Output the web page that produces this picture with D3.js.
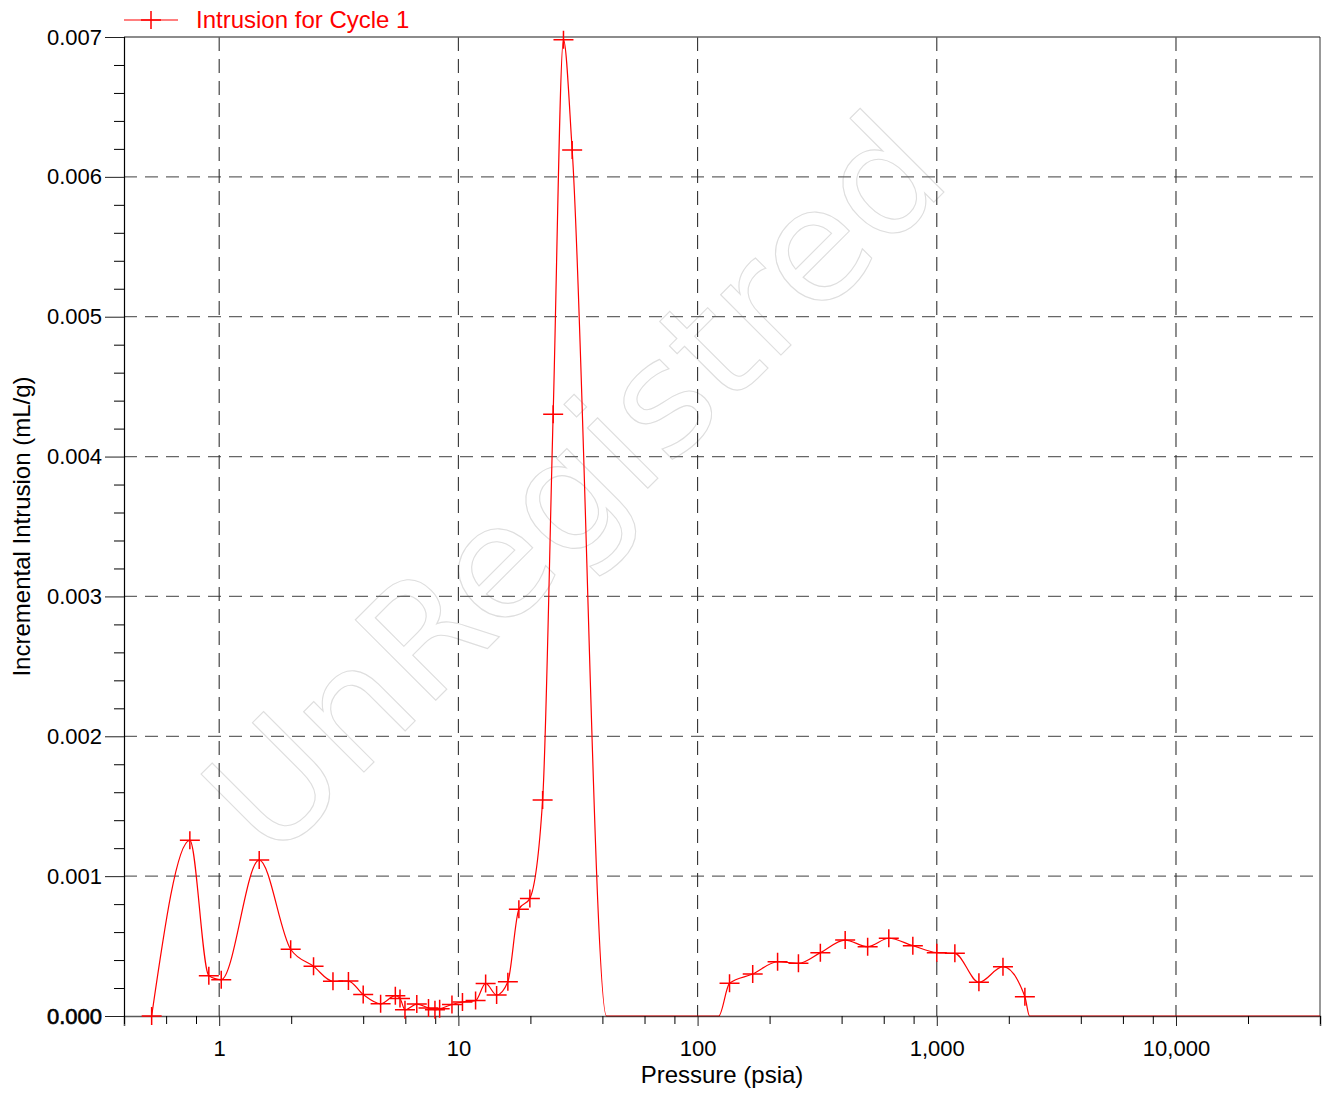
<!DOCTYPE html>
<html><head><meta charset="utf-8">
<script src="https://cdn.jsdelivr.net/npm/d3@7"></script>
<style>body{margin:0;background:#fff} svg{display:block;font-family:"Liberation Sans",Arial,sans-serif}</style>
</head><body><svg id="c" width="1330" height="1093"></svg>
<script>
// ---- data ----
const pressure = [0.522, 0.754, 0.905, 1.02, 1.47, 1.99, 2.48, 2.99, 3.47, 4.0, 4.73, 5.45, 5.7, 5.98, 6.7, 7.5, 7.98, 8.35, 9.4, 10.4, 11.8, 13.0, 14.45, 16.1, 17.9, 19.9, 22.5, 24.9, 27.5, 29.9, 41.6, 122.5, 136, 170, 216, 264, 326, 414, 514, 630, 794, 1000, 1190, 1500, 1891, 2335, 2443, 40000];
const intrusion = [0, 0.001256, 0.000288, 0.000260, 0.001115, 0.000477, 0.000355, 0.000248, 0.000250, 0.000153, 0.000087, 0.000145, 0.000126, 0.000045, 0.000085, 0.000057, 0.000045, 0.000052, 0.000082, 0.000100, 0.000110, 0.000233, 0.000150, 0.000245, 0.000763, 0.000841, 0.001544, 0.004302, 0.006980, 0.006192, 0, 0, 0.000234, 0.000300, 0.000388, 0.000377, 0.000453, 0.000543, 0.000496, 0.000556, 0.000503, 0.000453, 0.000448, 0.000241, 0.000353, 0.000138, 0, 0];
const seriesName = "Intrusion for Cycle 1";
const xMajorTicks = [1, 10, 100, 1000, 10000];
const xTickLabels = ["1", "10", "100", "1,000", "10,000"];
const xMinorTicks = [0.4, 0.6, 0.8, 2, 4, 6, 8, 20, 40, 60, 80, 200, 400, 600, 800, 2000, 4000, 6000, 8000, 20000, 40000];
const yMajorTicks = [0, 0.001, 0.002, 0.003, 0.004, 0.005, 0.006, 0.007];
const yTickLabels = ["0.000", "0.001", "0.002", "0.003", "0.004", "0.005", "0.006", "0.007"];
const yMinorTicks = [0.0002,0.0004,0.0006,0.0008,0.0012,0.0014,0.0016,0.0018,0.0022,0.0024,0.0026,0.0028,0.0032,0.0034,0.0036,0.0038,0.0042,0.0044,0.0046,0.0048,0.0052,0.0054,0.0056,0.0058,0.0062,0.0064,0.0066,0.0068];
const xTitle = "Pressure (psia)";
const yTitle = "Incremental Intrusion (mL/g)";
const watermark = "UnRegistred";

// ---- layout ----
const L = 124, R = 1320, T = 37, B = 1016;
const svg = d3.select("#c");
const x = d3.scaleLog().domain([0.4, 40000]).range([L, R]);
const y = d3.scaleLinear().domain([0, 0.007]).range([B, T]);
const data = pressure.map((p, i) => ({p, v: intrusion[i], i}));
const red = "#ff0000";

// watermark
svg.append("text")
  .attr("transform", "translate(613,523) rotate(-45)")
  .attr("text-anchor", "middle")
  .attr("font-family", "DejaVu Sans, sans-serif")
  .attr("font-size", 156)
  .attr("textLength", 965)
  .attr("lengthAdjust", "spacingAndGlyphs")
  .attr("fill", "none")
  .attr("stroke", "#dedede")
  .attr("stroke-width", 1.1)
  .text(watermark);

// grid
const grid = svg.append("g");
grid.selectAll("line.h").data(yMajorTicks.filter(d => d > 0 && d < 0.007)).join("line")
  .attr("x1", L).attr("x2", R).attr("y1", d => y(d)).attr("y2", d => y(d))
  .attr("stroke", "#666").attr("stroke-width", 1.2).attr("stroke-dasharray", "13,8");
grid.selectAll("line.v").data(xMajorTicks).join("line")
  .attr("y1", T).attr("y2", B).attr("x1", d => x(d)).attr("x2", d => x(d))
  .attr("stroke", "#333").attr("stroke-width", 1.1).attr("stroke-dasharray", "14,8");

// frame top & right
svg.append("line").attr("x1", L).attr("x2", R).attr("y1", T).attr("y2", T).attr("stroke", "#666").attr("stroke-width", 1.5);
svg.append("line").attr("x1", R).attr("x2", R).attr("y1", T).attr("y2", B).attr("stroke", "#333").attr("stroke-width", 1);

// series line
const line = d3.line().x(d => x(d.p)).y(d => y(d.v)).curve(d3.curveMonotoneX);
svg.append("path").datum(data).attr("d", line)
  .attr("fill", "none").attr("stroke", red).attr("stroke-width", 1.2);

// axes
const fontTick = 22;
const gx = svg.append("g").attr("transform", `translate(0,${B})`)
  .call(d3.axisBottom(x).tickValues(xMajorTicks).tickFormat((d, i) => xTickLabels[i]).tickSize(10).tickPadding(14));
svg.append("g").attr("transform", `translate(0,${B})`)
  .call(d3.axisBottom(x).tickValues(xMinorTicks).tickFormat("").tickSize(8))
  .call(g => g.select(".domain").remove());
const gy = svg.append("g").attr("transform", `translate(${L},0)`)
  .call(d3.axisLeft(y).tickValues(yMajorTicks).tickFormat((d, i) => yTickLabels[i]).tickSize(19).tickPadding(3));
svg.append("g").attr("transform", `translate(${L},0)`)
  .call(d3.axisLeft(y).tickValues(yMinorTicks).tickFormat("").tickSize(10))
  .call(g => g.select(".domain").remove());
[gx, gy].forEach(g => {
  g.attr("font-size", fontTick).attr("font-family", "Liberation Sans, Arial, sans-serif");
  g.selectAll("text").attr("fill", "#000");
  g.selectAll("line").attr("stroke", "#222");
});
gx.select(".domain").attr("stroke", "#000").attr("stroke-opacity", 0.65).attr("stroke-width", 1.6);
gy.select(".domain").attr("stroke", "#000").attr("stroke-width", 1.2);
gy.selectAll(".tick text").filter(d => d === 0).attr("stroke", "#000").attr("stroke-width", 0.6);

// markers
const mk = d3.symbol().type(d3.symbolCross);
const markers = svg.append("g").selectAll("path").data(data.filter(d => d.v > 0 || d.i === 0)).join("path")
  .attr("d", d => `M${x(d.p) - 10},${y(d.v)}H${x(d.p) + 10}M${x(d.p)},${y(d.v) - 9}V${y(d.v) + 9}`)
  .attr("stroke", red).attr("stroke-width", 1.5).attr("fill", "none");

// titles
svg.append("text").attr("x", (L + R) / 2).attr("y", 1083).attr("text-anchor", "middle")
  .attr("font-size", 24).attr("fill", "#000").text(xTitle);
svg.append("text").attr("transform", `translate(30,${(T + B) / 2}) rotate(-90)`).attr("text-anchor", "middle")
  .attr("font-size", 24).attr("fill", "#000").text(yTitle);

// legend
const lg = svg.append("g");
lg.append("line").attr("x1", 124).attr("x2", 178).attr("y1", 20).attr("y2", 20).attr("stroke", red).attr("stroke-width", 1.2);
lg.append("path").attr("d", "M141,20H161M151,11V29").attr("stroke", red).attr("stroke-width", 1.5);
lg.append("text").attr("x", 196).attr("y", 28).attr("font-size", 24).attr("fill", red).text(seriesName);
</script></body></html>
